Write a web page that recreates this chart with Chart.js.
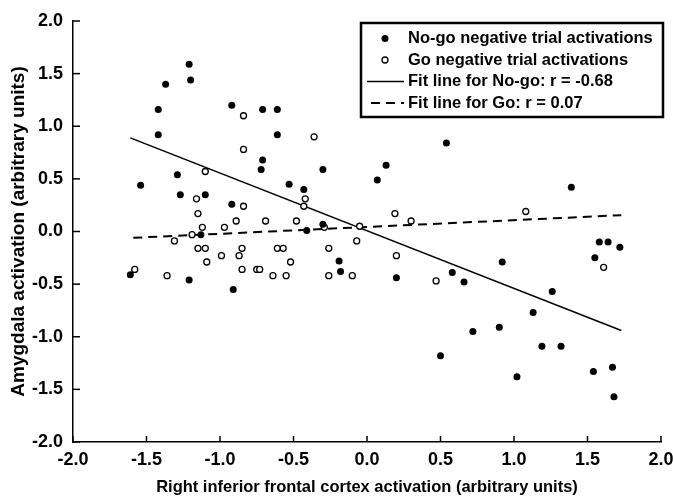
<!DOCTYPE html>
<html>
<head>
<meta charset="utf-8">
<script src="https://cdn.jsdelivr.net/npm/chart.js@4.4.1/dist/chart.umd.min.js"></script>
<style>
html, body { margin: 0; padding: 0; background: #fff; overflow: hidden; }
</style>
</head>
<body>
<canvas id="myChart" width="673" height="498"></canvas>
<script>
// No-go negative trials (filled dots)
var noGoX = [-1.61, -1.54, -1.42, -1.42, -1.37, -1.29, -1.27, -1.21, -1.20, -1.21, -1.10, -1.13, -0.92, -0.92, -0.91,
             -0.71, -0.61, -0.61, -0.71, -0.72, -0.53, -0.43, -0.30, -0.41, -0.30, -0.19, -0.18, 0.07, 0.13, 0.20,
             0.54, 0.58, 0.66, 0.92, 0.72, 0.90, 0.50, 1.02, 1.13, 1.19, 1.32, 1.26, 1.39, 1.55, 1.58, 1.64, 1.72,
             1.54, 1.67, 1.68];
var noGoY = [-0.41, 0.44, 1.16, 0.92, 1.40, 0.54, 0.35, 1.59, 1.44, -0.46, 0.35, -0.03, 1.20, 0.26, -0.55,
             1.16, 1.16, 0.92, 0.68, 0.59, 0.45, 0.40, 0.59, 0.01, 0.07, -0.28, -0.38, 0.49, 0.63, -0.44,
             0.84, -0.39, -0.48, -0.29, -0.95, -0.91, -1.18, -1.38, -0.77, -1.09, -1.09, -0.57, 0.42, -0.25, -0.10, -0.10, -0.15,
             -1.33, -1.29, -1.57];

// Go negative trials (open circles)
var goX = [-1.58, -1.36, -1.31, -1.19, -1.16, -1.15, -1.12, -1.10, -1.15, -1.10, -1.09, -0.99, -0.97, -0.89, -0.87,
           -0.85, -0.85, -0.84, -0.84, -0.84, -0.75, -0.73, -0.69, -0.64, -0.61, -0.57, -0.55, -0.52, -0.48, -0.42,
           -0.43, -0.36, -0.29, -0.26, -0.26, -0.10, -0.07, -0.05, 0.19, 0.20, 0.30, 0.47, 1.08, 1.61];
var goY = [-0.36, -0.42, -0.09, -0.03, 0.31, 0.17, 0.04, 0.57, -0.16, -0.16, -0.29, -0.23, 0.04, 0.10, -0.23,
           -0.16, -0.36, 1.10, 0.78, 0.24, -0.36, -0.36, 0.10, -0.42, -0.16, -0.16, -0.42, -0.29, 0.10, 0.31,
           0.24, 0.90, 0.04, -0.16, -0.42, -0.42, -0.09, 0.05, 0.17, -0.23, 0.10, -0.47, 0.19, -0.34];

// fit line end points
var fitNoGoX = [-1.61, 1.73];
var fitNoGoY = [0.89, -0.94];
var fitGoX = [-1.59, 1.73];
var fitGoY = [-0.06, 0.155];

var tickValues = [-2.0, -1.5, -1.0, -0.5, 0.0, 0.5, 1.0, 1.5, 2.0];
var legendLabels = ['No-go negative trial activations', 'Go negative trial activations',
                    'Fit line for No-go: r = -0.68', 'Fit line for Go: r = 0.07'];

function pts(xs, ys) {
    return xs.map(function (x, i) { return { x: x, y: ys[i] }; });
}

var FONT = '"Liberation Sans", Arial, sans-serif';

// small ticks pointing into the plot + the boxed legend
var extras = {
    id: 'extras',
    afterDraw: function (chart) {
        var c = chart.ctx, xs = chart.scales.x, ys = chart.scales.y;
        c.save();
        c.strokeStyle = '#000';
        c.lineWidth = 1.5;
        tickValues.forEach(function (v) {
            var px = xs.getPixelForValue(v);
            c.beginPath(); c.moveTo(px, xs.top); c.lineTo(px, xs.top - 6); c.stroke();
            var py = ys.getPixelForValue(v);
            c.beginPath(); c.moveTo(ys.right, py); c.lineTo(ys.right + 7, py); c.stroke();
        });

        // legend box
        var bx = 361, by = 23, bw = 302, bh = 94;
        c.lineWidth = 2.5;
        c.strokeRect(bx, by, bw, bh);
        c.fillStyle = '#000';
        c.font = 'bold 16.5px ' + FONT;
        c.textBaseline = 'middle';
        var rowY = [38.5, 60, 81.5, 103];
        legendLabels.forEach(function (t, i) {
            c.fillText(t, 408, rowY[i]);
        });
        // markers
        c.beginPath(); c.arc(385, rowY[0], 3.5, 0, Math.PI * 2); c.fill();
        c.lineWidth = 1.3;
        c.beginPath(); c.arc(385, rowY[1], 3, 0, Math.PI * 2); c.stroke();
        c.lineWidth = 1.5;
        c.beginPath(); c.moveTo(367, rowY[2]); c.lineTo(404, rowY[2]); c.stroke();
        c.lineWidth = 2;
        c.setLineDash([9, 6]);
        c.beginPath(); c.moveTo(371, rowY[3]); c.lineTo(404, rowY[3]); c.stroke();
        c.restore();
    }
};

var ctx = document.getElementById('myChart').getContext('2d');
var chart = new Chart(ctx, {
    type: 'scatter',
    data: {
        datasets: [{
            label: legendLabels[0],
            data: pts(noGoX, noGoY),
            backgroundColor: '#000',
            borderColor: '#000',
            pointRadius: 3.5,
            pointBorderWidth: 0
        }, {
            label: legendLabels[1],
            data: pts(goX, goY),
            backgroundColor: '#fff',
            borderColor: '#000',
            pointRadius: 3,
            pointBorderWidth: 1.3
        }, {
            type: 'line',
            label: legendLabels[2],
            data: pts(fitNoGoX, fitNoGoY),
            borderColor: '#000',
            borderWidth: 1.5,
            pointRadius: 0,
            fill: false
        }, {
            type: 'line',
            label: legendLabels[3],
            data: pts(fitGoX, fitGoY),
            borderColor: '#000',
            borderWidth: 2,
            borderDash: [9, 6],
            pointRadius: 0,
            fill: false
        }]
    },
    options: {
        responsive: false,
        animation: false,
        devicePixelRatio: 1,
        layout: { padding: { left: 0, right: 12, top: 21, bottom: 0 } },
        plugins: {
            legend: { display: false },
            tooltip: { enabled: false }
        },
        scales: {
            x: {
                type: 'linear',
                min: -2, max: 2,
                afterBuildTicks: function (s) { s.ticks = tickValues.map(function (v) { return { value: v }; }); },
                afterFit: function (s) { s.height = 56; s.paddingLeft = 0; s.paddingRight = 0; },
                grid: { display: false, drawTicks: false },
                border: { display: true, color: '#000', width: 1.5 },
                ticks: {
                    color: '#000', padding: 7,
                    font: { family: FONT, size: 18, weight: 'bold' },
                    callback: function (v) { return Number(v).toFixed(1); }
                },
                title: {
                    display: true,
                    text: 'Right inferior frontal cortex activation (arbitrary units)',
                    color: '#000',
                    font: { family: FONT, size: 16.5, weight: 'bold' },
                    padding: { top: 0, bottom: 1 }
                }
            },
            y: {
                type: 'linear',
                min: -2, max: 2,
                afterBuildTicks: function (s) { s.ticks = tickValues.map(function (v) { return { value: v }; }); },
                afterFit: function (s) { s.width = 73; s.paddingTop = 0; s.paddingBottom = 0; },
                grid: { display: false, drawTicks: false },
                border: { display: true, color: '#000', width: 1.5 },
                ticks: {
                    color: '#000', padding: 10,
                    font: { family: FONT, size: 18, weight: 'bold' },
                    callback: function (v) { return Number(v).toFixed(1); }
                },
                title: {
                    display: true,
                    text: 'Amygdala activation (arbitrary units)',
                    color: '#000',
                    font: { family: FONT, size: 19, weight: 'bold' },
                    padding: { top: 7, bottom: 0 }
                }
            }
        }
    },
    plugins: [extras]
});
</script>
</body>
</html>
